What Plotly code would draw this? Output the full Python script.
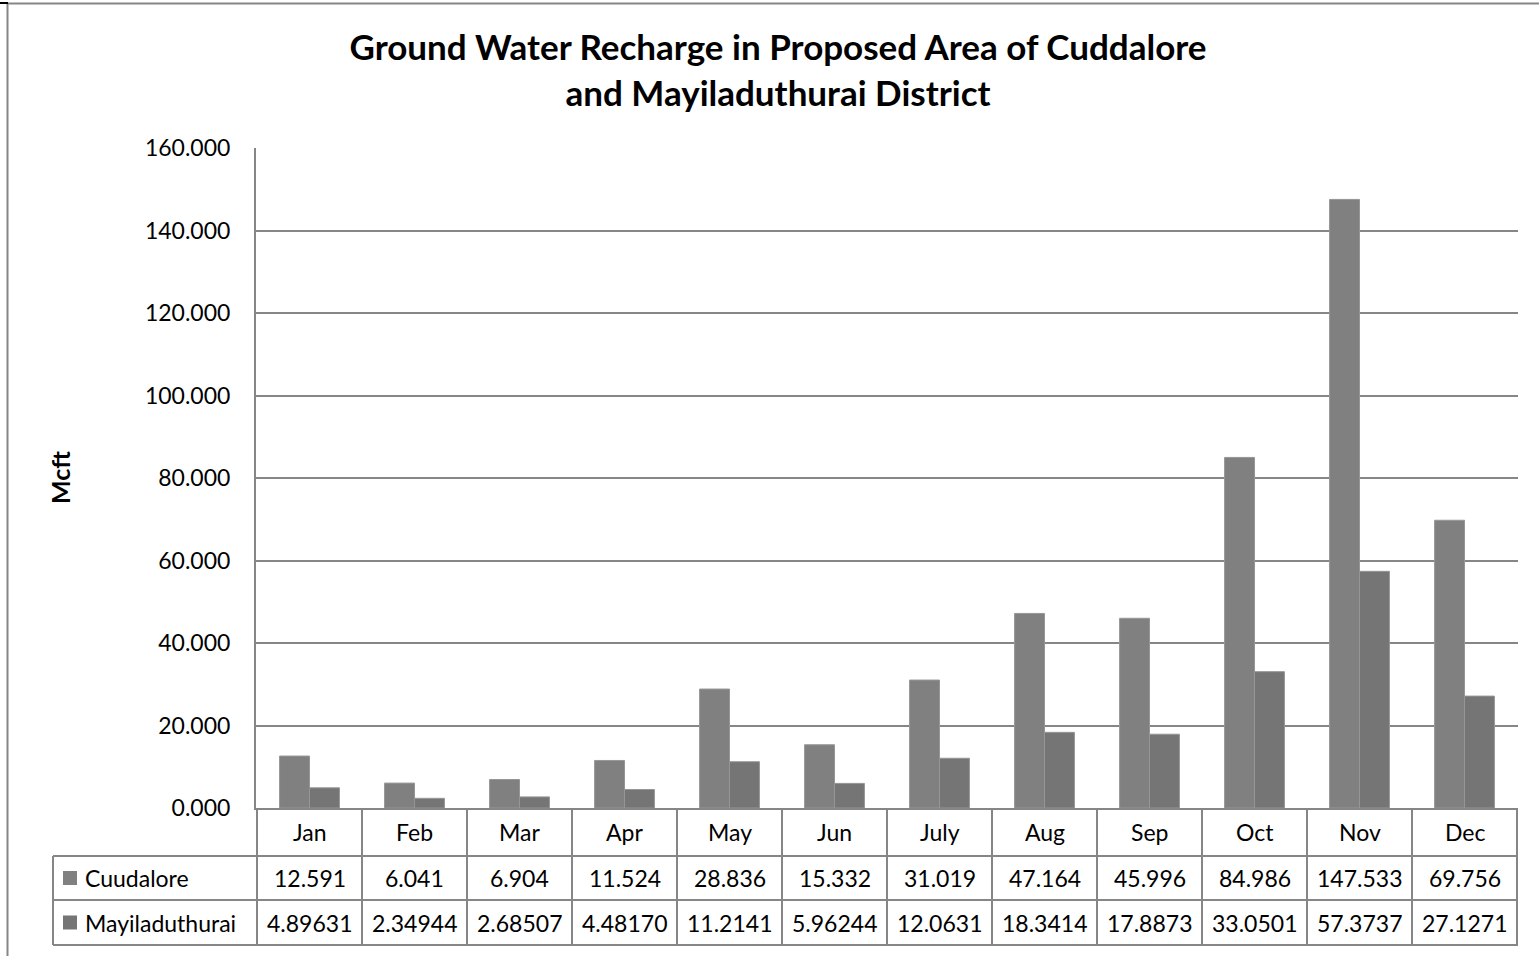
import plotly.graph_objects as go

months = ["Jan", "Feb", "Mar", "Apr", "May", "Jun", "July", "Aug", "Sep", "Oct", "Nov", "Dec"]
series_names = ["Cuudalore", "Mayiladuthurai"]
cuddalore = [12.591, 6.041, 6.904, 11.524, 28.836, 15.332, 31.019, 47.164, 45.996, 84.986, 147.533, 69.756]
mayiladuthurai = [4.89631, 2.34944, 2.68507, 4.48170, 11.2141, 5.96244, 12.0631, 18.3414, 17.8873, 33.0501, 57.3737, 27.1271]

W, H = 1539, 956
L, R, T, B = 256, 1518, 148, 808
FONT = "Lato"
LINE = "#868686"
colors = ["#808080", "#757575"]
TXT = dict(size=23, color="#000000")

# pixel -> paper helpers (table and frame live outside the plot area)
def px(x):
    return (x - L) / (R - L)

def py(y):
    return (B - y) / (B - T)

fig = go.Figure()
for name, vals, c in zip(series_names, [cuddalore, mayiladuthurai], colors):
    fig.add_trace(go.Bar(x=months, y=vals, name=name, marker_color=c,
                         marker_line=dict(color="#969696", width=1)))

shapes = []
def hline(y, x0, x1, color=LINE, w=2):
    shapes.append(dict(type="line", xref="paper", yref="paper", x0=px(x0), x1=px(x1),
                       y0=py(y), y1=py(y), line=dict(color=color, width=w)))

def vline(x, y0, y1, color=LINE, w=2):
    shapes.append(dict(type="line", xref="paper", yref="paper", x0=px(x), x1=px(x),
                       y0=py(y0), y1=py(y1), line=dict(color=color, width=w)))

# data table grid
row_y = [808, 856, 900, 945]
hline(856, 53, R)
hline(900, 53, R)
hline(945, 53, R)
vline(53, 856, 945)
for i in range(len(months) + 1):
    shapes.append(dict(type="line", xref="x", yref="paper", x0=i - 0.5, x1=i - 0.5,
                       y0=py(808), y1=py(945), line=dict(color=LINE, width=2)))

# legend keys inside the table
for k, c in enumerate(colors):
    yc = (row_y[k + 1] + row_y[k + 2]) / 2
    shapes.append(dict(type="rect", xref="paper", yref="paper", x0=px(63), x1=px(77),
                       y0=py(yc + 7), y1=py(yc - 7), fillcolor=c, line=dict(width=0)))

# chart-area frame
vline(7.5, 3, 956)
hline(3.5, 7, W)
hline(3, 0, 8, color="#000000", w=2)

annotations = []
for i, m in enumerate(months):
    for y, t in [(832, m), (878, f"{cuddalore[i]:.3f}"), (923, f"{mayiladuthurai[i]:#.6g}")]:
        annotations.append(dict(x=m, xref="x", y=py(y), yref="paper", text=t, showarrow=False,
                                xanchor="center", yanchor="middle", font=TXT))
for k, name in enumerate(series_names):
    yc = (row_y[k + 1] + row_y[k + 2]) / 2
    annotations.append(dict(x=px(83), xref="paper", y=py(yc), yref="paper", text=name,
                            xanchor="left", yanchor="middle", showarrow=False, font=TXT))
annotations.append(dict(x=px(60), xref="paper", y=py(478), yref="paper", text="<b>Mcft</b>",
                        textangle=-90, xanchor="center", yanchor="middle", showarrow=False,
                        font=dict(size=25, color="#000000")))

fig.update_layout(
    width=W, height=H,
    margin=dict(l=L, r=W - R, t=T, b=H - B, autoexpand=False),
    paper_bgcolor="white", plot_bgcolor="white",
    font=dict(family=FONT, color="#000000"),
    title=dict(text="<b>Ground Water Recharge in Proposed Area of Cuddalore<br>and Mayiladuthurai District</b>",
               x=778 / W, xref="container", xanchor="center", y=1 - 60 / H, yref="container", yanchor="middle",
               font=dict(size=35, family=FONT, color="#000000")),
    barmode="group", bargap=0.43, bargroupgap=0,
    showlegend=False,
    shapes=shapes, annotations=annotations,
)
fig.update_xaxes(showticklabels=False, showgrid=False, showline=True, linecolor=LINE, linewidth=2,
                 ticks="", fixedrange=True)
fig.update_yaxes(range=[0, 160], dtick=20, tickformat=".3f", showgrid=True, gridcolor=LINE, gridwidth=2,
                 showline=True, linecolor=LINE, linewidth=2, zeroline=False, ticks="",
                 ticklabelstandoff=19, tickfont=TXT)

fig.write_html("out.html", config={"displayModeBar": False},
               post_script="document.body.style.margin='0';")
